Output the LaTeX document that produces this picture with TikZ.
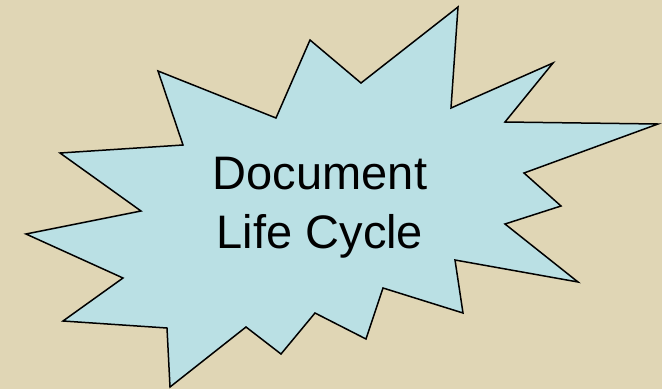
\documentclass[tikz,border=0pt]{standalone}
\usepackage{fontspec}
\setmainfont{Liberation Sans}
\usepackage{xcolor}
\usetikzlibrary{positioning}

\definecolor{paper}{RGB}{224,214,181}
\definecolor{burstblue}{RGB}{186,224,228}

\begin{document}
\begin{tikzpicture}[
    x=1pt, y=-1pt,
    burst/.style={draw=black, fill=burstblue, line width=1.5pt, line join=miter},
    title/.style={align=center, font=\fontsize{47}{59}\selectfont, inner sep=0pt}
]
\fill[paper] (0,0) rectangle (662,389);
\useasboundingbox (0,0) rectangle (662,389);

\draw[burst] (310,40) -- (361,83) -- (458,7) -- (451,108) -- (553,63) -- (505,122)
    -- (658,124) -- (524,173) -- (561,206) -- (505,224) -- (578,282) -- (455,260)
    -- (463,313) -- (383,288) -- (366,339) -- (315,313) -- (281,354) -- (246,327)
    -- (170,387) -- (167,328) -- (63,321) -- (123,278) -- (26,234) -- (141,211)
    -- (60,153) -- (183,145) -- (158,71) -- (276,118) -- cycle;

\node[title] (cycle) at (320,208) {Document\\Life Cycle};
\end{tikzpicture}
\end{document}
